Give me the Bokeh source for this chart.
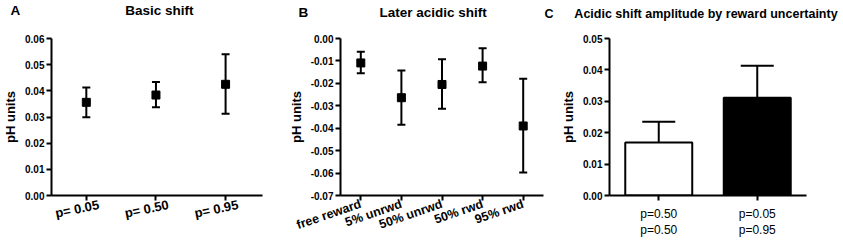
from bokeh.plotting import figure
from bokeh.models import (FactorRange, Range1d, FixedTicker, PrintfTickFormatter,
                          ColumnDataSource, Whisker, TeeHead, LinearAxis)
from bokeh.layouts import row
from bokeh.embed import file_html
from bokeh.resources import INLINE

# ---- data ----
a_cats = ["p= 0.05", "p= 0.50", "p= 0.95"]
a_mean = [0.0356, 0.0384, 0.0425]
a_lo = [0.0299, 0.0337, 0.0312]
a_hi = [0.0413, 0.0434, 0.0540]

b_cats = ["free reward", "5% unrwd", "50% unrwd", "50% rwd", "95% rwd"]
b_mean = [-0.0109, -0.0264, -0.0205, -0.0123, -0.0390]
b_lo = [-0.0155, -0.0384, -0.0313, -0.0195, -0.0597]
b_hi = [-0.0059, -0.0143, -0.0092, -0.0044, -0.0180]

c_cats = ["p=0.50\np=0.50", "p=0.05\np=0.95"]
c_mean = [0.0169, 0.0311]
c_hi = [0.0235, 0.0413]
c_fill = ["white", "black"]

a_yticks = [0.0, 0.01, 0.02, 0.03, 0.04, 0.05, 0.06]
b_yticks = [0.0, -0.01, -0.02, -0.03, -0.04, -0.05, -0.06, -0.07]
c_yticks = [0.0, 0.01, 0.02, 0.03, 0.04, 0.05]

panel_letters = ["A", "B", "C"]
titles = ["Basic shift", "Later acidic shift", "Acidic shift amplitude by reward uncertainty"]

FONT = "Liberation Sans"
H = 246
NB = "\u00a0"


def base_fig(xr, yr, yticks, width, ml, mr, mt, mb, title, offset, tsize, lh, so):
    p = figure(x_range=xr, y_range=Range1d(*yr),
               width=width, height=H, output_backend="svg", toolbar_location=None,
               min_border_left=ml, min_border_right=mr, min_border_top=mt, min_border_bottom=mb,
               title=title + "\n" + NB)
    p.title.align = "left"
    p.title.offset = offset
    p.title.standoff = so
    p.title.text_line_height = lh
    p.title.text_font = FONT
    p.title.text_font_style = "bold"
    p.title.text_font_size = tsize
    p.title.text_color = "black"
    p.outline_line_color = None
    p.xgrid.visible = False
    p.ygrid.visible = False
    p.background_fill_color = "white"
    p.border_fill_color = "white"
    for ax in (p.xaxis[0], p.yaxis[0]):
        ax.axis_line_width = 2
        ax.axis_line_color = "black"
        ax.major_tick_line_width = 2
        ax.major_tick_line_color = "black"
        ax.major_tick_out = 5
        ax.major_tick_in = 0
        ax.minor_tick_line_color = None
        ax.major_label_text_font = FONT
        ax.major_label_text_color = "black"
    p.yaxis.ticker = FixedTicker(ticks=yticks)
    p.yaxis.formatter = PrintfTickFormatter(format="%.2f")
    p.yaxis.major_label_text_font_size = "10px"
    p.yaxis.major_label_text_font_style = "bold"
    p.yaxis.major_label_standoff = 2
    p.yaxis.axis_label = "pH units"
    p.yaxis.axis_label_text_font = FONT
    p.yaxis.axis_label_text_font_style = "bold"
    p.yaxis.axis_label_text_font_size = "13px"
    p.yaxis.axis_label_text_color = "black"
    p.yaxis.axis_label_standoff = 4
    return p


# ---- Panel A ---- (numeric category positions so the labels can sit centred)
a_x = list(range(len(a_cats)))
pa = base_fig(Range1d(-0.5, 2.53), (0, 0.06), a_yticks, 285, 44, 23, 38, 48,
              panel_letters[0] + NB * 28 + titles[0], -41, "13.5px", 1.35, 0)
srcA = ColumnDataSource(dict(x=a_x, m=a_mean, lo=a_lo, hi=a_hi))
pa.add_layout(Whisker(base="x", upper="hi", lower="lo", source=srcA, line_width=2, line_color="black",
                      upper_head=TeeHead(size=8, line_width=2, line_color="black"),
                      lower_head=TeeHead(size=8, line_width=2, line_color="black")))
pa.scatter("x", "m", source=srcA, marker="square", size=8, color="black")
pa.xaxis.ticker = FixedTicker(ticks=a_x)
pa.xaxis.major_label_overrides = {i: "" for i in a_x}
pa.xaxis.major_label_text_font_size = "0px"
pa.xaxis.major_label_standoff = 0
pa.extra_x_ranges = {"lbl": Range1d(-0.68, 2.35)}
lblA = LinearAxis(x_range_name="lbl", ticker=FixedTicker(ticks=a_x),
                  major_label_overrides={i: c for i, c in zip(a_x, a_cats)},
                  axis_line_color=None, major_tick_line_color=None, minor_tick_line_color=None,
                  major_tick_out=0, major_tick_in=0,
                  major_label_text_font=FONT, major_label_text_font_style="bold",
                  major_label_text_font_size="13px", major_label_text_color="black",
                  major_label_orientation=0.2, major_label_standoff=4)
pa.add_layout(lblA, "below")

# ---- Panel B ----
pb = base_fig(FactorRange(*b_cats, range_padding=0), (-0.07, 0.0), b_yticks, 259, 50, 1, 34, 51,
              panel_letters[1] + NB * 19 + titles[1], -42, "13.5px", 1.15, 2)
srcB = ColumnDataSource(dict(x=b_cats, m=b_mean, lo=b_lo, hi=b_hi))
pb.add_layout(Whisker(base="x", upper="hi", lower="lo", source=srcB, line_width=2, line_color="black",
                      upper_head=TeeHead(size=8, line_width=2, line_color="black"),
                      lower_head=TeeHead(size=8, line_width=2, line_color="black")))
pb.scatter("x", "m", source=srcB, marker="square", size=8, color="black")
pb.xaxis.major_label_text_font_size = "12.5px"
pb.xaxis.major_label_text_font_style = "bold"
pb.xaxis.major_label_orientation = 0.33
pb.xaxis.major_label_standoff = 3

# ---- Panel C ----
pc = base_fig(FactorRange(*c_cats, range_padding=0), (0, 0.05), c_yticks, 299, 65, 37, 34, 50,
              panel_letters[2] + NB * 6 + titles[2], -65, "12.5px", 1.2, 2)
srcC = ColumnDataSource(dict(x=c_cats, m=c_mean, hi=c_hi, fill=c_fill))
pc.add_layout(Whisker(base="x", upper="hi", lower="m", source=srcC, line_width=2, line_color="black",
                      upper_head=TeeHead(size=33, line_width=2, line_color="black"),
                      lower_head=None))
pc.vbar(x="x", top="m", bottom=0, width=0.68, source=srcC, fill_color="fill",
        line_color="black", line_width=2)
pc.xaxis.major_label_text_font_size = "12px"
pc.xaxis.major_label_standoff = 6

layout = row(pa, pb, pc)
open("out.html", "w").write(file_html(layout, INLINE))
